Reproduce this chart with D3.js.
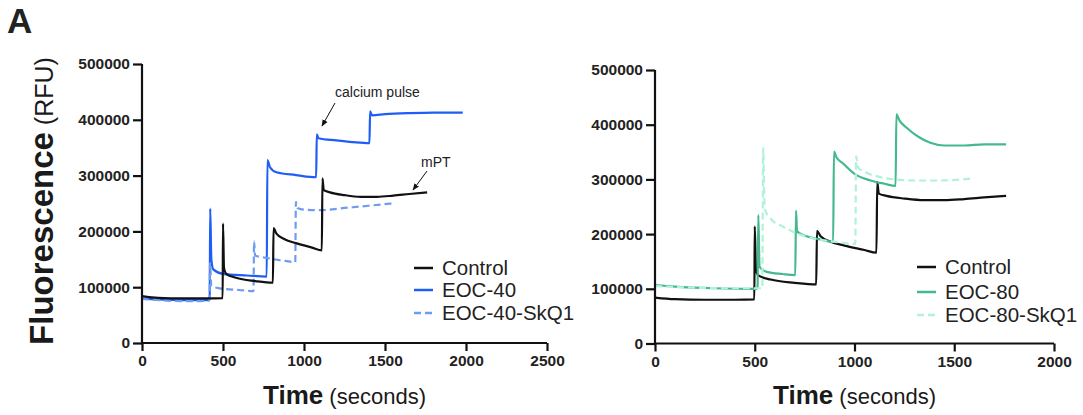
<!DOCTYPE html>
<html>
<head>
<script src="https://d3js.org/d3.v7.min.js"></script>
<title>Calcium retention</title>
<style>
  body { margin: 0; background: #fff; }
  text { font-family: "Liberation Sans", Arial, sans-serif; }
</style>
</head>
<body>
<svg width="1083" height="415"></svg>
<script>
// ---- data (time in seconds, fluorescence in RFU) ----
const control = [[0,84000],[100,81000],[250,80000],[400,80000],[498,80500],[500,214000],[506,135000],[520,124000],[580,117000],[700,111000],[808,108000],
  [812,206000],[830,196000],[880,186000],[950,179000],[1050,171000],[1110,166000],[1114,295000],[1122,274000],[1160,270000],[1250,265000],
  [1350,262000],[1450,262000],[1550,264000],[1650,267000],[1760,270000]];

const eoc40 = [[0,80000],[100,78000],[250,77000],[410,77000],[418,78000],[421,241000],[428,150000],[440,132000],[500,124000],[650,121000],[770,119000],
  [774,328000],[790,315000],[830,306000],[950,301000],[1075,297000],[1079,374000],[1090,367000],[1200,363000],[1300,360000],[1404,358000],
  [1408,415000],[1420,408000],[1500,410000],[1650,412000],[1800,413000],[1980,413000]];

const eoc40skq1 = [[0,79000],[150,76000],[300,75000],[416,76000],[420,143000],[428,102000],[480,98000],[600,95000],[688,93000],[692,182000],
  [698,157000],[760,153000],[860,148000],[946,145000],[950,253000],[960,242000],[1000,239000],[1100,238000],[1250,242000],[1400,246000],[1540,250000]];

const eoc80 = [[0,107000],[100,104000],[300,101000],[510,100000],[514,104000],[518,235000],[524,140000],[560,131000],[640,127000],[703,125000],
  [707,243000],[712,205000],[760,196000],[830,190000],[893,186000],[897,351000],[910,340000],[940,330000],[1000,310000],[1080,298000],
  [1150,292000],[1206,288000],[1210,419000],[1225,408000],[1260,395000],[1320,378000],[1380,367000],[1450,362000],[1550,362000],
  [1650,364000],[1760,364000]];

const eoc80skq1 = [[0,105000],[200,102000],[400,101000],[538,101000],[542,357000],[550,246000],[580,228000],[640,214000],[720,200000],
  [820,190000],[920,185000],[1004,182000],[1008,342000],[1018,322000],[1060,312000],[1120,305000],[1200,300000],[1300,298000],
  [1400,298000],[1500,299000],[1600,302000]];

const yTicks = [0, 100000, 200000, 300000, 400000, 500000];
const xTicksLeft = [0, 500, 1000, 1500, 2000, 2500];
const xTicksRight = [0, 500, 1000, 1500, 2000];

const svg = d3.select("svg");

svg.append("defs").append("marker")
  .attr("id", "arrow").attr("viewBox", "0 0 10 10")
  .attr("refX", 9).attr("refY", 5)
  .attr("markerWidth", 7).attr("markerHeight", 7)
  .attr("orient", "auto")
  .append("path").attr("d", "M0,1 L10,5 L0,9 z").attr("fill", "#111");

svg.append("text").attr("x", 7).attr("y", 33)
  .attr("font-size", 35).attr("font-weight", "bold").attr("fill", "#222").text("A");

function panel(cfg) {
  const x = d3.scaleLinear().domain(cfg.xDomain).range([cfg.left, cfg.right]);
  const y = d3.scaleLinear().domain([0, 500000]).range([cfg.bottom, cfg.top]);
  const g = svg.append("g");

  const line = d3.line()
    .x(function(d) { return x(d[0]); })
    .y(function(d) { return y(d[1]); })
    .curve(d3.curveMonotoneX);

  cfg.series.forEach(function(s) {
    g.append("path")
      .datum(s.data)
      .attr("fill", "none")
      .attr("stroke", s.color)
      .attr("stroke-width", 2.2)
      .attr("stroke-dasharray", s.dash ? "7,4" : null)
      .attr("d", line);
  });

  const yAxis = g.append("g")
    .attr("transform", "translate(" + cfg.left + ",0)")
    .call(d3.axisLeft(y).tickValues(yTicks).tickFormat(d3.format("d")).tickSize(9).tickPadding(3));
  const xAxis = g.append("g")
    .attr("transform", "translate(0," + cfg.bottom + ")")
    .call(d3.axisBottom(x).tickValues(cfg.xTicks).tickFormat(d3.format("d")).tickSize(8).tickPadding(4));

  [yAxis, xAxis].forEach(function(a) {
    a.select(".domain").attr("stroke", "#111").attr("stroke-width", 2.2);
    a.selectAll(".tick line").attr("stroke", "#111").attr("stroke-width", 2.2);
    a.selectAll(".tick text")
      .attr("font-family", "'Liberation Sans', Arial, sans-serif")
      .attr("font-size", 15.5).attr("font-weight", "bold").attr("fill", "#222");
  });
  // domain path from d3 draws outer ticks; redraw clean
  yAxis.select(".domain").attr("d", "M0," + cfg.top + "V" + cfg.bottom);
  xAxis.select(".domain").attr("d", "M" + cfg.left + ",0H" + cfg.right);

  // x axis title
  const xt = g.append("text")
    .attr("x", (cfg.left + cfg.right) / 2).attr("y", 404)
    .attr("text-anchor", "middle").attr("fill", "#1a1a1a");
  xt.append("tspan").attr("font-size", 26).attr("font-weight", "bold").text("Time");
  xt.append("tspan").attr("font-size", 22).text(" (seconds)");

  // legend
  cfg.series.forEach(function(s, i) {
    const ly = cfg.legendY[i];
    g.append("line")
      .attr("x1", cfg.legendX).attr("x2", cfg.legendX + 19)
      .attr("y1", ly).attr("y2", ly)
      .attr("stroke", s.color).attr("stroke-width", 2.5)
      .attr("stroke-dasharray", s.dash ? "7,4" : null);
    g.append("text")
      .attr("x", cfg.legendX + 28).attr("y", ly + 7)
      .attr("font-size", 20.5).attr("fill", "#222").text(s.name);
  });
  return { x: x, y: y, g: g };
}

const left = panel({
  left: 142, right: 547, top: 64, bottom: 343,
  xDomain: [0, 2500], xTicks: xTicksLeft,
  legendX: 414, legendY: [268, 290, 313],
  series: [
    { name: "Control", data: control, color: "#111111" },
    { name: "EOC-40", data: eoc40, color: "#1e5ef6" },
    { name: "EOC-40-SkQ1", data: eoc40skq1, color: "#6e9cf0", dash: true }
  ]
});
// draw order: control on top of blues like the reference
left.g.selectAll("path").filter(function(d) { return d === control; }).raise();

const right = panel({
  left: 655, right: 1054, top: 70, bottom: 343.5,
  xDomain: [0, 2000], xTicks: xTicksRight,
  legendX: 917, legendY: [267, 292, 315],
  series: [
    { name: "Control", data: control, color: "#111111" },
    { name: "EOC-80", data: eoc80, color: "#45b98d" },
    { name: "EOC-80-SkQ1", data: eoc80skq1, color: "#b2f1da", dash: true }
  ]
});

// y axis title (left only)
const yt = svg.append("text")
  .attr("transform", "translate(53,201) rotate(-90)")
  .attr("text-anchor", "middle").attr("fill", "#1a1a1a");
yt.append("tspan").attr("font-size", 33).attr("font-weight", "bold").text("Fluorescence");
yt.append("tspan").attr("font-size", 25).text(" (RFU)");

// annotations
function note(label, tx, ty, x1, y1, x2, y2) {
  svg.append("text").attr("x", tx).attr("y", ty)
    .attr("font-size", 14).attr("fill", "#222").text(label);
  svg.append("line")
    .attr("x1", x1).attr("y1", y1).attr("x2", x2).attr("y2", y2)
    .attr("stroke", "#111").attr("stroke-width", 1)
    .attr("marker-end", "url(#arrow)");
}
note("calcium pulse", 335, 97, 335, 103, 322, 126);
note("mPT", 421, 167, 427, 171, 413, 190);
</script>
</body>
</html>
